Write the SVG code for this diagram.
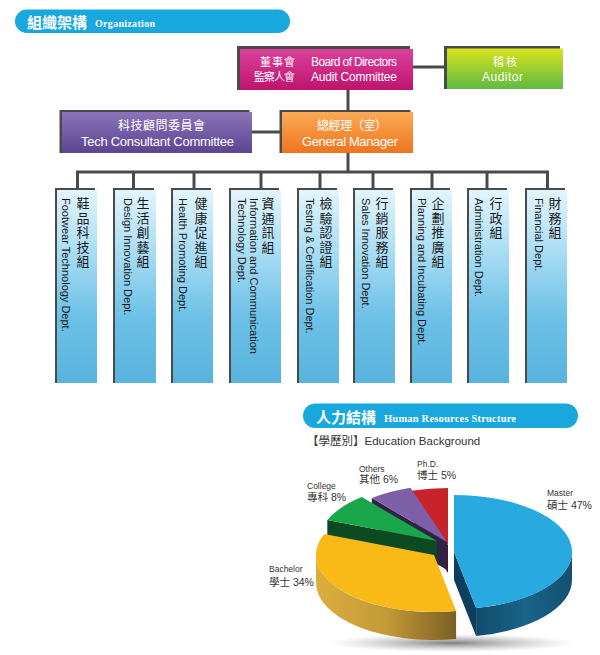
<svg xmlns="http://www.w3.org/2000/svg" width="600" height="655" viewBox="0 0 600 655">
<defs>
<style>
.hdr{fill:#19a8dd}
.hz{font-family:"Noto Sans CJK TC","Liberation Sans",sans-serif;font-weight:bold;font-size:15px;fill:#fff}
.he{font-family:"Liberation Serif","Noto Serif",serif;font-weight:bold;fill:#fff}
.frame{fill:#4a4a4a}
.bt{font-family:"Liberation Sans","Noto Sans CJK TC",sans-serif;fill:#fff}
.bz{font-family:"Noto Sans CJK TC","Liberation Sans",sans-serif;fill:#fff}
.conn line{stroke:#4a4a4a;stroke-width:3;fill:none}
.dept{fill:url(#gDept)}
.dz{font-family:"Noto Sans CJK TC","Liberation Sans",sans-serif;font-size:13px;fill:#1a1a1a;writing-mode:vertical-rl;letter-spacing:1.4px}
.de{font-family:"Liberation Sans","Noto Sans",sans-serif;font-size:11px;fill:#1a1a1a}
.pl{font-family:"Liberation Sans","Noto Sans CJK TC",sans-serif;fill:#333}
</style>
<linearGradient id="gMag" x1="0" y1="0" x2="0" y2="1"><stop offset="0" stop-color="#da429a"/><stop offset="1" stop-color="#bf136e"/></linearGradient>
<linearGradient id="gGrn" x1="0" y1="0" x2="0" y2="1"><stop offset="0" stop-color="#d8e31b"/><stop offset="1" stop-color="#5fba45"/></linearGradient>
<linearGradient id="gPur" x1="0" y1="0" x2="0" y2="1"><stop offset="0" stop-color="#8b74b8"/><stop offset="1" stop-color="#5c4492"/></linearGradient>
<linearGradient id="gOra" x1="0" y1="0" x2="0" y2="1"><stop offset="0" stop-color="#fbaa55"/><stop offset="1" stop-color="#ee751e"/></linearGradient>
<linearGradient id="gDept" x1="0" y1="0" x2="0" y2="1"><stop offset="0" stop-color="#e3f5fd"/><stop offset="0.3" stop-color="#acdef4"/><stop offset="0.65" stop-color="#6ec1e7"/><stop offset="1" stop-color="#58b3dd"/></linearGradient>
<linearGradient id="gBlueSide" gradientUnits="userSpaceOnUse" x1="454" y1="0" x2="572" y2="0"><stop offset="0" stop-color="#0c405e"/><stop offset="0.6" stop-color="#1a6489"/><stop offset="1" stop-color="#13506f"/></linearGradient>
<linearGradient id="gYelSide" gradientUnits="userSpaceOnUse" x1="316" y1="0" x2="456" y2="0"><stop offset="0" stop-color="#dcae3e"/><stop offset="0.5" stop-color="#c39a36"/><stop offset="1" stop-color="#7c5f24"/></linearGradient>
<radialGradient id="gShadow" cx="0.5" cy="0.5" r="0.5"><stop offset="0" stop-color="#555" stop-opacity="0.75"/><stop offset="1" stop-color="#999" stop-opacity="0"/></radialGradient>
</defs>
<rect width="600" height="655" fill="#fff"/>

<g id="header-org">
<rect class="hdr" x="15" y="9.5" width="275" height="23.5" rx="11.75"/>
<text class="hz" x="27" y="28">組織架構</text>
<text class="he" x="95" y="27" font-size="10" textLength="60">Organization</text>
</g>

<g class="conn" id="connectors">
<line x1="413" y1="67" x2="446" y2="67"/>
<line x1="348" y1="90" x2="348" y2="112"/>
<line x1="252" y1="132" x2="282" y2="132"/>
<line x1="348" y1="153" x2="348" y2="172"/>
<line x1="76" y1="172" x2="549" y2="172"/>
<line x1="77.5" y1="172" x2="77.5" y2="189"/>
<line x1="133.5" y1="172" x2="133.5" y2="189"/>
<line x1="194" y1="172" x2="194" y2="189"/>
<line x1="261" y1="172" x2="261" y2="189"/>
<line x1="320" y1="172" x2="320" y2="189"/>
<line x1="373" y1="172" x2="373" y2="189"/>
<line x1="432" y1="172" x2="432" y2="189"/>
<line x1="487" y1="172" x2="487" y2="189"/>
<line x1="547.5" y1="172" x2="547.5" y2="189"/>
</g>

<g id="board">
<rect class="frame" x="237" y="46" width="173" height="44"/>
<rect x="240" y="49" width="173" height="41" fill="url(#gMag)"/>
<text class="bz" x="260" y="66" font-size="11" textLength="35">董事會</text>
<text class="bt" x="311" y="66" font-size="12" textLength="86">Board of Directors</text>
<text class="bz" x="254" y="80.5" font-size="11" textLength="41">監察人會</text>
<text class="bt" x="311" y="80.5" font-size="12" textLength="86">Audit Committee</text>
</g>

<g id="auditor">
<rect class="frame" x="444" y="46" width="116" height="43"/>
<rect x="447" y="48.5" width="116" height="40.5" fill="url(#gGrn)"/>
<text class="bz" x="493" y="66" font-size="11" textLength="24">稽核</text>
<text class="bt" x="482" y="81" font-size="12" textLength="41">Auditor</text>
</g>

<g id="tech">
<rect class="frame" x="59.5" y="110" width="190" height="43"/>
<rect x="62" y="112" width="190" height="41" fill="url(#gPur)"/>
<text class="bz" x="118" y="130" font-size="12" textLength="87">科技顧問委員會</text>
<text class="bt" x="81" y="146" font-size="13" textLength="153">Tech Consultant Committee</text>
</g>

<g id="gm">
<rect class="frame" x="279.5" y="110" width="131" height="43"/>
<rect x="282" y="112" width="131" height="41" fill="url(#gOra)"/>
<text class="bz" x="317" y="130" font-size="12" textLength="70">總經理（室）</text>
<text class="bt" x="302" y="146" font-size="13" textLength="96">General Manager</text>
</g>

<g id="dept1">
<rect class="frame" x="55" y="188" width="40" height="195"/>
<rect class="dept" x="57" y="190" width="40" height="193"/>
<text class="dz" x="83" y="197">鞋品科技組</text>
<text class="de" transform="translate(61.5,198) rotate(90)">Footwear Technology Dept.</text>
</g>
<g id="dept2">
<rect class="frame" x="113" y="188" width="41" height="195"/>
<rect class="dept" x="115" y="190" width="41" height="193"/>
<text class="dz" x="143" y="197">生活創藝組</text>
<text class="de" transform="translate(123.5,198) rotate(90)">Design Innovation Dept.</text>
</g>
<g id="dept3">
<rect class="frame" x="171" y="188" width="40" height="195"/>
<rect class="dept" x="173" y="190" width="40" height="193"/>
<text class="dz" x="201" y="197">健康促進組</text>
<text class="de" transform="translate(178.5,198) rotate(90)">Health Promoting Dept.</text>
</g>
<g id="dept4">
<rect class="frame" x="229" y="188" width="50" height="195"/>
<rect class="dept" x="231" y="190" width="50" height="193"/>
<text class="dz" x="268" y="197">資通訊組</text>
<text class="de" transform="translate(250,198) rotate(90)">Information and Communication</text>
<text class="de" transform="translate(238,198) rotate(90)">Technology Dept.</text>
</g>
<g id="dept5">
<rect class="frame" x="297" y="188" width="40" height="195"/>
<rect class="dept" x="299" y="190" width="40" height="193"/>
<text class="dz" x="326" y="197">檢驗認證組</text>
<text class="de" transform="translate(306,198) rotate(90)">Testing &amp; Certification Dept.</text>
</g>
<g id="dept6">
<rect class="frame" x="353" y="188" width="40" height="195"/>
<rect class="dept" x="355" y="190" width="40" height="193"/>
<text class="dz" x="382" y="197">行銷服務組</text>
<text class="de" transform="translate(362,198) rotate(90)">Sales Innovation Dept.</text>
</g>
<g id="dept7">
<rect class="frame" x="410" y="188" width="40" height="195"/>
<rect class="dept" x="412" y="190" width="40" height="193"/>
<text class="dz" x="438" y="197">企劃推廣組</text>
<text class="de" transform="translate(418,198) rotate(90)">Planning and Incubating Dept.</text>
</g>
<g id="dept8">
<rect class="frame" x="467" y="188" width="40" height="195"/>
<rect class="dept" x="469" y="190" width="40" height="193"/>
<text class="dz" x="496" y="197">行政組</text>
<text class="de" transform="translate(475,198) rotate(90)">Administration Dept.</text>
</g>
<g id="dept9">
<rect class="frame" x="525" y="188" width="40" height="195"/>
<rect class="dept" x="527" y="190" width="40" height="193"/>
<text class="dz" x="555" y="197">財務組</text>
<text class="de" transform="translate(535,198) rotate(90)">Financial Dept.</text>
</g>

<g id="header-hr">
<rect class="hdr" x="303" y="403.5" width="275" height="24.5" rx="12.25"/>
<text class="hz" x="316" y="423">人力結構</text>
<text class="he" x="384" y="422" font-size="10.5" textLength="132">Human Resources Structure</text>
</g>
<text class="pl" x="307" y="445" font-size="11.5">【學歷別】Education Background</text>

<g id="pie">
<ellipse cx="452" cy="643" rx="125" ry="9" fill="url(#gShadow)"/>
<g id="slice-phd">
<path d="M448 545 L411.5 490.8 L411.5 518.8 L448 573 Z" fill="#5a1016"/>
<path d="M448 545 L411.5 490.8 A118 57 0 0 1 448 488 Z" fill="#c8222b"/>
</g>
<g id="slice-others">
<path d="M447 542 L371.8 498.1 L371.8 526.1 L447 570 Z" fill="#2f2445"/>
<path d="M447 542 L371.8 498.1 A118 57 0 0 1 410.5 487.8 Z" fill="#7f5fa8"/>
</g>
<g id="slice-college">
<path d="M437 541 L327.3 520 L327.3 548 L437 569 Z" fill="#0c4a24"/>
<path d="M437 541 L327.3 520 A118 57 0 0 1 361.8 497.1 Z" fill="#1aa64b"/>
</g>
<g id="slice-bachelor">
<path d="M456.1 611 A118 57 0 0 1 316 555 L316 583 A118 57 0 0 0 456.1 639 Z" fill="url(#gYelSide)"/>
<path d="M434 555 L456.1 611 A118 57 0 0 1 324.3 534 Z" fill="#f9b917"/>
</g>
<g id="slice-master">
<path d="M454 552 L476.1 608 L476.1 636 L454 580 Z" fill="#0c3f5d"/>
<path d="M572 552 A118 57 0 0 1 476.1 608 L476.1 636 A118 57 0 0 0 572 580 Z" fill="url(#gBlueSide)"/>
<path d="M454 552 L454 495 A118 57 0 0 1 476.1 608 Z" fill="#28a9e0"/>
</g>
</g>

<g id="labels">
<text class="pl" x="547" y="496" font-size="8.5">Master</text>
<text class="pl" x="547" y="509" font-size="10.5">碩士 47%</text>
<text class="pl" x="417" y="467" font-size="8.5">Ph.D.</text>
<text class="pl" x="417" y="478.5" font-size="10.5">博士 5%</text>
<text class="pl" x="359" y="471.5" font-size="8.5">Others</text>
<text class="pl" x="359" y="483" font-size="10.5">其他 6%</text>
<text class="pl" x="307" y="489" font-size="8.5">College</text>
<text class="pl" x="307" y="500.5" font-size="10.5">專科 8%</text>
<text class="pl" x="269" y="572" font-size="8.5">Bachelor</text>
<text class="pl" x="269" y="585.5" font-size="10.5">學士 34%</text>
</g>
</svg>
